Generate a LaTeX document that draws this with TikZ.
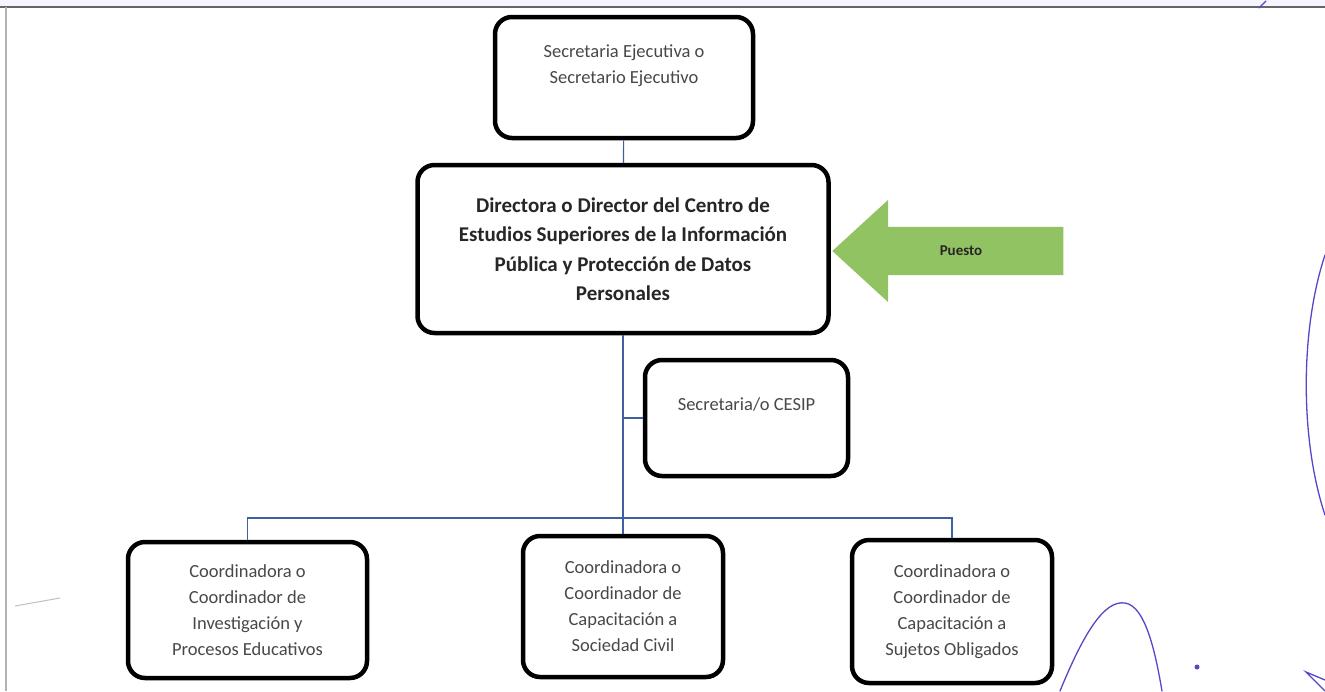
\documentclass[tikz,border=0pt]{standalone}
\usepackage{fontspec}
\setmainfont{Carlito}
\usetikzlibrary{shapes.arrows, positioning}

\definecolor{puestogreen}{RGB}{146,195,98}
\definecolor{linkblue}{RGB}{62,96,160}
\definecolor{inkblue}{RGB}{82,72,200}
\definecolor{txtgray}{RGB}{72,72,72}

\begin{document}
\begin{tikzpicture}[
    x=1pt, y=-1pt,
    every node/.style={align=center},
    box/.style={rectangle, draw=black, line width=4.5pt, rounded corners=17pt, fill=white, inner sep=0pt, font=\fontsize{18.5}{26}\selectfont, text=txtgray},
    bigbox/.style={box, font=\bfseries\fontsize{21}{29.5}\selectfont, text=black!85},
    link/.style={draw=linkblue, line width=1.2pt},
    pointer/.style={single arrow, shape border rotate=180, fill=puestogreen, single arrow head extend=27pt, single arrow tip angle=85, inner xsep=0pt, inner ysep=19pt, font=\bfseries\fontsize{15}{17}\selectfont, text=black!85},
    ink/.style={draw=inkblue, line width=1.3pt, line cap=round}
]
\useasboundingbox (0,0) rectangle (1325,691);

% ================= PAGE FRAME =================
\fill[blue!4] (0,0) rectangle (1325,6);
\draw[black!60, line width=1.5pt] (0,7) -- (1325,7);
\draw[black!30, line width=2pt] (6,7) -- (6,691);

% ================= TOP LEVEL =================
\node[box, minimum width=258pt, minimum height=121pt, text depth=27pt] (secejec) at (624,77.5) {Secretaria Ejecutiva o\\Secretario Ejecutivo};
\node[bigbox, minimum width=411pt, minimum height=168pt] (director) at (623,249) {Directora o Director del Centro de\\Estudios Superiores de la Información\\Pública y Protección de Datos\\Personales};
\node[pointer, minimum height=231pt] (puesto) at (961,251) {Puesto};

\draw[link] (secejec) -- (director);

% ================= SUPPORT =================
\node[box, minimum width=203pt, minimum height=116pt, text depth=27pt] (secret) at (746.5,418) {Secretaria/o CESIP};

% ================= COORDINATIONS =================
\node[box, minimum width=239pt, minimum height=136pt] (coordinv) at (247.5,610) {Coordinadora o\\Coordinador de\\Investigación y\\Procesos Educativos};
\node[box, minimum width=200pt, minimum height=141pt] (coordsoc) at (623,606.5) {Coordinadora o\\Coordinador de\\Capacitación a\\Sociedad Civil};
\node[box, minimum width=200pt, minimum height=143pt] (coordsuj) at (952,611.5) {Coordinadora o\\Coordinador de\\Capacitación a\\Sujetos Obligados};

\coordinate (bus) at (623,518);
\draw[link] (director) -- (coordsoc);
\draw[link] (secret.west) -- (secret.west -| director.south);
\draw[link] (coordinv.north) -- (coordinv.north |- bus) -- (coordsuj.north |- bus) -- (coordsuj.north);

% ink marks from the scan
\draw[ink] (1325,255) .. controls (1300,330) and (1300,440) .. (1325,515);
\draw[ink] (1060,691) .. controls (1085,630) and (1105,600) .. (1125,603) .. controls (1145,606) and (1155,650) .. (1162,691);
\fill[inkblue] (1197,667) circle (2.5pt);
\draw[ink] (1325,680) -- (1306,672) -- (1325,691);
\draw[ink] (1259,8) -- (1266,1);
\draw[black!25, line width=1pt] (15,606) -- (60,598);
\end{tikzpicture}
\end{document}
